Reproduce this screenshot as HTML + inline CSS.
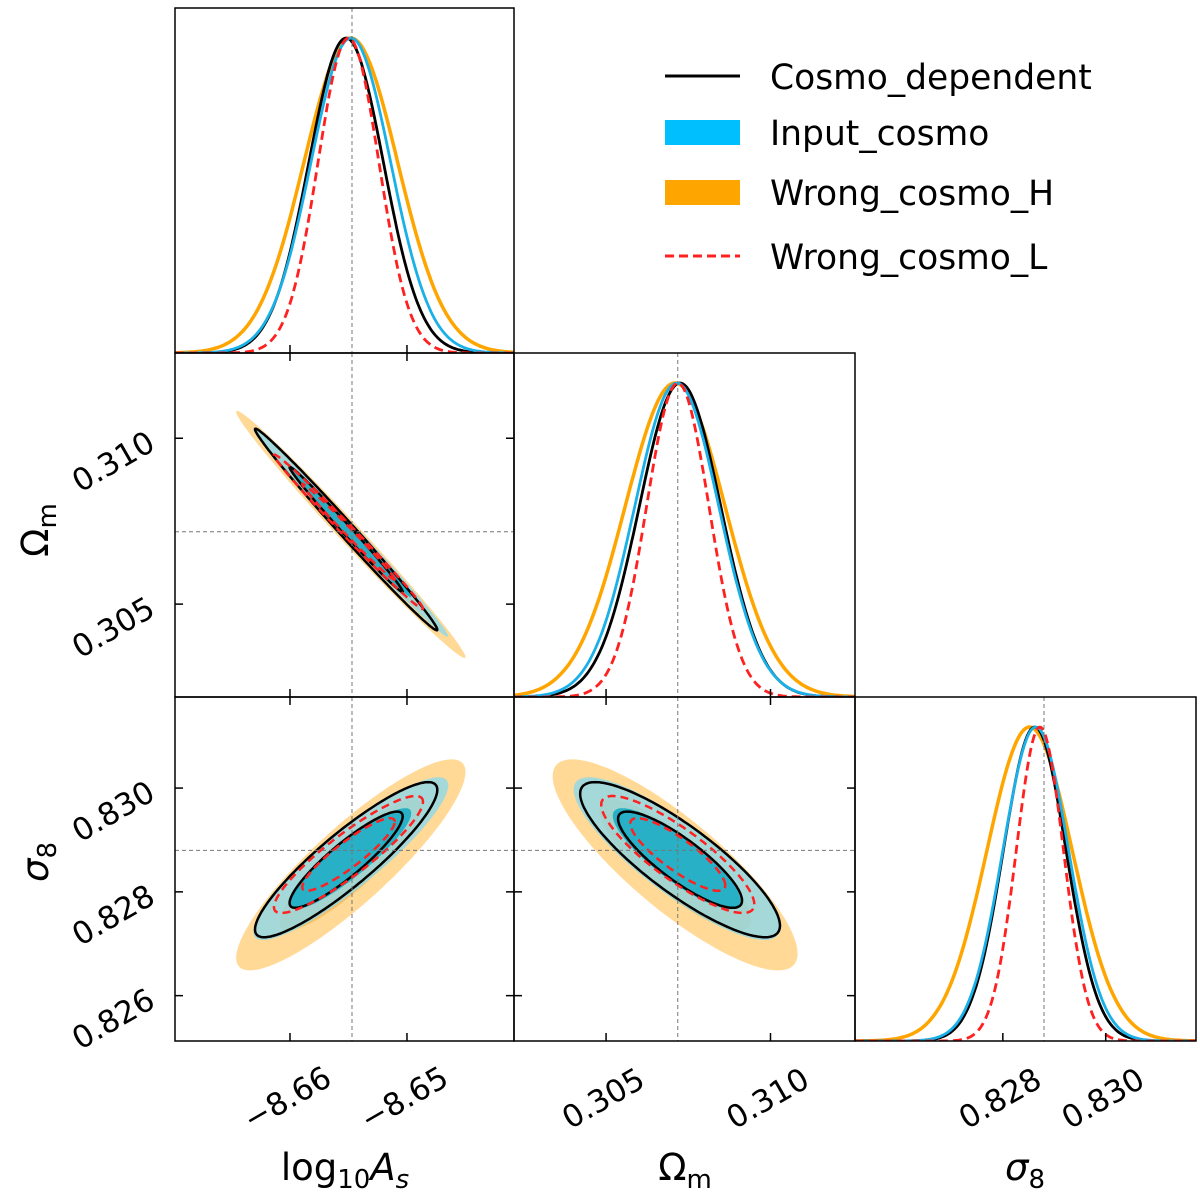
<!DOCTYPE html>
<html><head><meta charset="utf-8"><style>
body{margin:0;background:#fff;}
svg{display:block;font-family:"DejaVu Sans","Liberation Sans",sans-serif;}
</style></head><body>
<svg id="chart" width="1200" height="1198" viewBox="0 0 1200 1198" xmlns="http://www.w3.org/2000/svg">
<g id="layer"></g>
<g>
<line x1="665" y1="76" x2="740" y2="76" stroke="#000" stroke-width="3"/>
<text x="770" y="89" font-size="34.5">Cosmo_dependent</text>
<rect x="665" y="120" width="75" height="25" fill="#00bfff"/>
<text x="770" y="145" font-size="34.5">Input_cosmo</text>
<rect x="665" y="180" width="75" height="25" fill="#ffa500"/>
<text x="770" y="205" font-size="34.5">Wrong_cosmo_H</text>
<line x1="665" y1="256" x2="740" y2="256" stroke="#ff2020" stroke-width="3" stroke-dasharray="9,5"/>
<text x="770" y="269" font-size="34.5">Wrong_cosmo_L</text>
</g>
</svg>
<script>
// ---- data ----
const params = ["logAs","Om","s8"];
const seriesNames = ["Wrong_cosmo_H","Cosmo_dependent","Input_cosmo","Wrong_cosmo_L"];
const truth = [-8.6547, 0.30718, 0.82880];
const meanAs = [-8.6548, -8.6552, -8.6548, -8.6550];
const meanOm = [0.30710, 0.30725, 0.30715, 0.30718];
const meanS8 = [0.82852, 0.82862, 0.82864, 0.82872];
const sigAs = [0.0040, 0.00318, 0.0034, 0.0026];
const sigOm = [0.00152, 0.00124, 0.00128, 0.00095];
const sigS8 = [0.00083, 0.00061, 0.00064, 0.00046];
const rhoAsOm = [-0.992, -0.994, -0.994, -0.994];
const rhoAsS8 = [0.88, 0.90, 0.90, 0.90];
const rhoOmS8 = [-0.84, -0.85, -0.85, -0.85];
const ticksAs = [-8.66, -8.65];
const ticksOm = [0.305, 0.310];
const ticksS8 = [0.826, 0.828, 0.830];
const ticksS8x = [0.828, 0.830];
const tickLabAs = ["\u22128.66", "\u22128.65"];
const tickLabOm = ["0.305", "0.310"];
const tickLabS8 = ["0.826", "0.828", "0.830"];
const tickLabS8x = ["0.828", "0.830"];
const levels = [1.52, 2.45];

// ---- layout ----
const ranges = [[-8.66983,-8.64085],[0.30220,0.31257],[0.825126,0.831755]];
const colL = [175,514,855], colW=[339,341,341];
const rowT = [8,353,697], rowH=[345,344,344];
const means=[meanAs,meanOm,meanS8], sigs=[sigAs,sigOm,sigS8];
const ticks=[ticksAs,ticksOm,ticksS8], tickLabs=[tickLabAs,tickLabOm,tickLabS8];
const xticks=[ticksAs,ticksOm,ticksS8x], xtickLabs=[tickLabAs,tickLabOm,tickLabS8x];
const lineCol = ["#ffa500","#000000","#1ab0e8","#ff2020"];
const NS="http://www.w3.org/2000/svg";
const layer=document.getElementById('layer');
function mk(tag, attrs, parent){const e=document.createElementNS(NS,tag);for(const k in attrs)e.setAttribute(k,attrs[k]);(parent||layer).appendChild(e);return e;}
function xs(p,v){const r=ranges[p];return colL[p]+(v-r[0])/(r[1]-r[0])*colW[p];}
function ys(p,v){const r=ranges[p];return rowT[p]+rowH[p]-(v-r[0])/(r[1]-r[0])*rowH[p];}
function rho(i,j,s){const key=[i,j].sort().join('');return key==='01'?rhoAsOm[s]:key==='02'?rhoAsS8[s]:rhoOmS8[s];}

// 1D panels
for(let p=0;p<3;p++){
  const g=mk('g',{});
  
  
  const x0=colL[p], y0=rowT[p], w=colW[p], h=rowH[p];
  const cp=mk('clipPath',{id:'c1'+p},g); mk('rect',{x:x0,y:y0,width:w,height:h},cp);
  [0,1,2,3].forEach(s=>{
    let d='';
    for(let k=0;k<=200;k++){
      const v=ranges[p][0]+(ranges[p][1]-ranges[p][0])*k/200;
      const z=(v-means[p][s])/sigs[p][s];
      const f=Math.exp(-0.5*z*z);
      d+=(k?'L':'M')+xs(p,v).toFixed(1)+','+(y0+h-f*(h-30)).toFixed(1);
    }
    const path=mk('path',{d:d,fill:'none',stroke:lineCol[s],'stroke-width':s===0?3.5:2.8,'clip-path':'url(#c1'+p+')'},g);
    if(s===3)path.setAttribute('stroke-dasharray','9,5');
    
    
  });
  const tl=mk('line',{x1:xs(p,truth[p]),x2:xs(p,truth[p]),y1:y0,y2:y0+h,stroke:'#777','stroke-width':1,'stroke-dasharray':'4,3'},g);
  
  
  xticks[p].forEach(t=>{const X=xs(p,t);mk('line',{x1:X,x2:X,y1:y0+h,y2:y0+h-8,stroke:'#000','stroke-width':1.5},g);});
  const fr=mk('rect',{x:x0,y:y0,width:w,height:h,fill:'none',stroke:'#000','stroke-width':1.5},g);
  
  
}

// 2D panels
function ellipsePath(i,j,s,k){
  const mx=means[i][s], my=means[j][s], sx=sigs[i][s], sy=sigs[j][s], r=rho(i,j,s);
  let d='';
  for(let a=0;a<=180;a++){
    const t=a/180*2*Math.PI, u=Math.cos(t), v=Math.sin(t);
    const vx=mx+k*sx*u, vy=my+k*sy*(r*u+Math.sqrt(1-r*r)*v);
    d+=(a?'L':'M')+xs(i,vx).toFixed(1)+','+ys(j,vy).toFixed(1);
  }
  return d+'Z';
}
const pairs=[[0,1],[0,2],[1,2]];
pairs.forEach(([i,j])=>{
  const g=mk('g',{});
  
  
  const x0=colL[i], y0=rowT[j], w=colW[i], h=rowH[j];
  const cid='c2'+i+j; const cp=mk('clipPath',{id:cid},g); mk('rect',{x:x0,y:y0,width:w,height:h},cp);
  const cg=mk('g',{'clip-path':'url(#'+cid+')'},g);
  const e1=mk('path',{d:ellipsePath(i,j,0,levels[1]),fill:'#ffd995'},cg);
  
  
  const e2=mk('path',{d:ellipsePath(i,j,0,levels[0]),fill:'#fbc063'},cg);
  
  
  const e3=mk('path',{d:ellipsePath(i,j,2,levels[1]),fill:'#8fd8ea','fill-opacity':0.8},cg);
  
  
  const e4=mk('path',{d:ellipsePath(i,j,2,levels[0]),fill:'#27b0c6'},cg);
  
  
  levels.forEach((k,li)=>{
    const b=mk('path',{d:ellipsePath(i,j,1,k),fill:'none',stroke:'#000','stroke-width':2.5},cg);
    
    
  });
  levels.forEach((k,li)=>{
    const r=mk('path',{d:ellipsePath(i,j,3,k),fill:'none',stroke:'#ff2020','stroke-width':2.5,'stroke-dasharray':'8,5'},cg);
    
    
  });
  const tx=mk('line',{x1:xs(i,truth[i]),x2:xs(i,truth[i]),y1:y0,y2:y0+h,stroke:'#777','stroke-width':1,'stroke-dasharray':'4,3'},g);
  
  
  const ty=mk('line',{x1:x0,x2:x0+w,y1:ys(j,truth[j]),y2:ys(j,truth[j]),stroke:'#777','stroke-width':1,'stroke-dasharray':'4,3'},g);
  
  
  xticks[i].forEach(t=>{const X=xs(i,t);mk('line',{x1:X,x2:X,y1:y0+h,y2:y0+h-8,stroke:'#000','stroke-width':1.5},g);mk('line',{x1:X,x2:X,y1:y0,y2:y0+8,stroke:'#000','stroke-width':1.5},g);});
  ticks[j].forEach(t=>{const Y=ys(j,t);if(Y<y0||Y>y0+h)return;mk('line',{x1:x0,x2:x0+8,y1:Y,y2:Y,stroke:'#000','stroke-width':1.5},g);mk('line',{x1:x0+w,x2:x0+w-8,y1:Y,y2:Y,stroke:'#000','stroke-width':1.5},g);});
  const fr=mk('rect',{x:x0,y:y0,width:w,height:h,fill:'none',stroke:'#000','stroke-width':1.5},g);
  
  
});

// tick labels: x (bottom)
for(let p=0;p<3;p++){
  xticks[p].forEach((t,ti)=>{
    const X=xs(p,t); if(X<colL[p]||X>colL[p]+colW[p])return;
    const cx=X-3, cy=1098;
    const tt=mk('text',{x:cx,y:cy+11,'font-size':31,'text-anchor':'middle',transform:'rotate(-30 '+cx+' '+cy+')'});
    tt.textContent=xtickLabs[p][ti];
    
    
  });
}
// tick labels: y (left)
for(let p=1;p<3;p++){
  ticks[p].forEach((t,ti)=>{
    const Y=ys(p,t); if(Y<rowT[p]||Y>rowT[p]+rowH[p])return;
    const cx=113, cy=Y+23;
    const tt=mk('text',{x:cx,y:cy+11,'font-size':31,'text-anchor':'middle',transform:'rotate(-30 '+cx+' '+cy+')'});
    tt.textContent=tickLabs[p][ti];
    
    
  });
}
// axis titles
function title(html,x,y,rot,name){
  const t=mk('text',{x:x,y:y,'font-size':37,'text-anchor':'middle'});
  if(rot)t.setAttribute('transform','rotate(-90 '+x+' '+y+')');
  t.innerHTML=html;
  
  
}
title('log<tspan font-size="26" dy="8">10</tspan><tspan dy="-8" font-style="italic">A</tspan><tspan font-size="26" dy="8" font-style="italic">s</tspan>',345,1180,false,'x-axis-title-logas');
title('Ω<tspan font-size="26" dy="8">m</tspan>',685,1180,false,'x-axis-title-omega-m');
title('<tspan font-style="italic">σ</tspan><tspan font-size="26" dy="8">8</tspan>',1025,1180,false,'x-axis-title-sigma8');
title('Ω<tspan font-size="26" dy="8">m</tspan>',48,530,true,'y-axis-title-omega-m');
title('<tspan font-style="italic">σ</tspan><tspan font-size="26" dy="8">8</tspan>',48,862,true,'y-axis-title-sigma8');
</script>
</body></html>
